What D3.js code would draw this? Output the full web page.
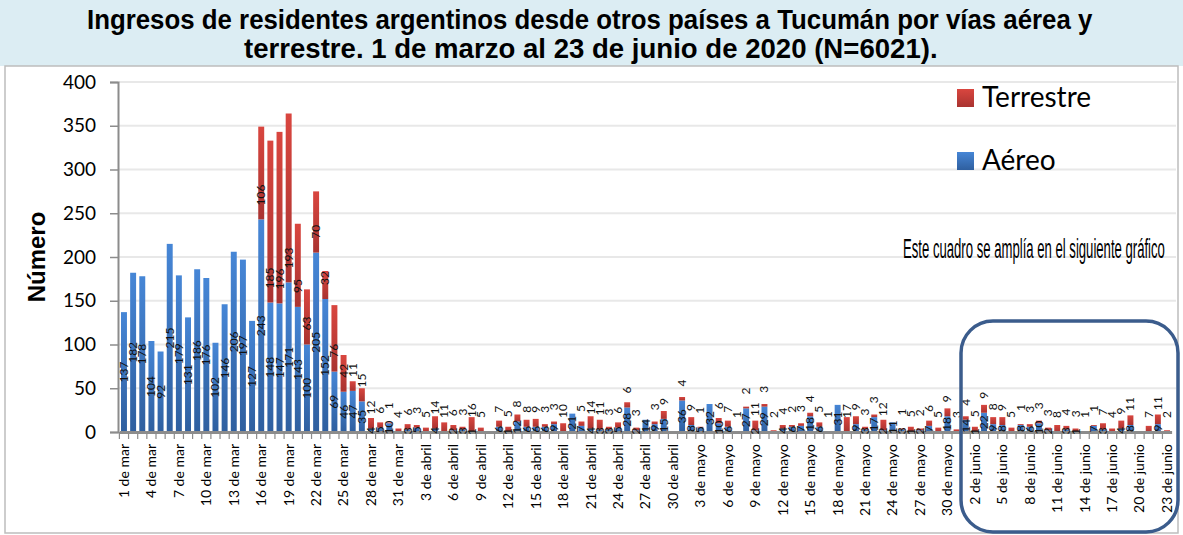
<!DOCTYPE html>
<html lang="es">
<head>
<meta charset="UTF-8">
<title>Ingresos a Tucumán</title>
<script src="https://d3js.org/d3.v7.min.js"></script>
<style>
  body { margin: 0; background: #fff; }
  svg { display: block; }
  .tick text { fill: #000; }
</style>
</head>
<body>
<div id="chart"></div>
<script>
// meses y días (1 de marzo al 23 de junio de 2020)
const monthNames = ["mar", "abril", "mayo", "junio"];
const monthDays = [31, 30, 31, 23];

// Aéreo (azul) por día
const aereo = [
  137, 182, 178, 104, 92, 215, 179, 131, 186, 176, 102, 146, 206, 197, 127,
  243, 148, 147, 171, 143, 100, 205, 152, 69, 46, 47, 35, 4, 5, 10, 0,
  3, 5, 0, 4, 0, 2, 3, 1, 0, 0, 6, 1, 12, 6, 6, 6, 9, 0, 21, 7,
  4, 3, 3, 5, 28, 2, 14, 9, 15, 0,
  36, 8, 5, 32, 10, 6, 0, 27, 2, 29, 0, 4, 6, 7, 18, 6, 0, 31, 0, 9,
  3, 17, 2, 11, 3, 1, 2, 7, 0, 18, 0,
  14, 1, 22, 9, 8, 0, 8, 6, 10, 2, 0, 3, 1, 0, 7, 3, 0, 4, 8, 0, 0, 9, 0
];
// Terrestre (rojo) por día
const terrestre = [
  0, 0, 0, 0, 0, 0, 0, 0, 0, 0, 0, 0, 0, 0, 0,
  106, 185, 196, 193, 95, 63, 70, 32, 76, 42, 11, 15, 12, 6, 1, 4,
  6, 3, 5, 14, 11, 6, 3, 16, 5, 0, 7, 5, 8, 8, 9, 3, 3, 10, 0, 5,
  14, 11, 3, 6, 6, 3, 0, 3, 9, 0,
  4, 9, 1, 0, 6, 7, 1, 2, 11, 3, 2, 4, 2, 3, 4, 5, 1, 0, 17, 9,
  3, 3, 12, 0, 1, 5, 2, 6, 5, 9, 3,
  4, 5, 9, 8, 9, 5, 1, 3, 3, 3, 8, 4, 3, 1, 1, 7, 4, 9, 11, 0, 7, 11, 2
];
const yTicks = [0, 50, 100, 150, 200, 250, 300, 350, 400];

const categories = [];
monthNames.forEach((m, k) => {
  for (let d = 1; d <= monthDays[k]; d++) categories.push(d + " de " + m);
});

const W = 1183, H = 535;
const svg = d3.select("#chart").append("svg").attr("width", W).attr("height", H);

const defs = svg.append("defs");
function grad(id, c1, c2) {
  const g = defs.append("linearGradient").attr("id", id).attr("x1", 0).attr("y1", 0).attr("x2", 0).attr("y2", 1);
  g.append("stop").attr("offset", "0%").attr("stop-color", c1);
  g.append("stop").attr("offset", "100%").attr("stop-color", c2);
}
grad("gBlue", "#4686d6", "#2f5f9f");
grad("gRed", "#d9463f", "#a93330");

// texto estrecho: se escala en horizontal hasta el ancho pedido
function narrowText(cx, cy, width, font, str, anchor) {
  const t = svg.append("text").style("font", font).text(str);
  const len = t.node().getComputedTextLength();
  const k = width / len;
  const left = anchor === "middle" ? cx - width / 2 : cx;
  t.attr("transform", `translate(${left},${cy}) scale(${k},1)`);
  return t;
}

// cabecera
svg.append("rect").attr("x", 0).attr("y", 0).attr("width", W).attr("height", 66).attr("fill", "#dcedf3");
svg.append("rect").attr("x", 5).attr("y", 66).attr("width", 1173).attr("height", 467)
  .attr("fill", "#fff").attr("stroke", "#bdbdbd").attr("stroke-width", 1.5);

narrowText(590, 29, 1006, "bold 28px 'Liberation Sans', Arial, sans-serif",
  "Ingresos de residentes argentinos desde otros países a Tucumán por vías aérea y", "middle");
narrowText(591, 58, 694, "bold 28px 'Liberation Sans', Arial, sans-serif",
  "terrestre. 1 de marzo al 23 de junio de 2020 (N=6021).", "middle");

const x = d3.scaleBand().domain(categories).range([119.4, 1171.6]).paddingInner(0.35).paddingOuter(0.175);
const y = d3.scaleLinear().domain([0, 400]).range([432, 82]);

// grid
svg.append("g").selectAll("line").data(yTicks.slice(1)).join("line")
  .attr("x1", 119).attr("x2", 1176).attr("y1", d => y(d)).attr("y2", d => y(d))
  .attr("stroke", "#e8e8e8").attr("stroke-width", 2);

// ejes
const yAxis = svg.append("g").attr("transform", "translate(118,0)")
  .call(d3.axisLeft(y).tickValues(yTicks).tickSize(8).tickPadding(14));
yAxis.select(".domain").attr("stroke", "#8c8c8c").attr("stroke-width", 2);
yAxis.selectAll(".tick line").attr("stroke", "#8c8c8c").attr("stroke-width", 1.5);
yAxis.selectAll(".tick text").style("font", "19px Lato, 'Open Sans', sans-serif");

svg.append("text").attr("transform", "translate(45,257) rotate(-90)").attr("text-anchor", "middle")
  .style("font", "bold 24px 'Liberation Sans', Arial, sans-serif").text("Número");

// barras
const stacked = categories.map((c, i) => ({ c, a: aereo[i], t: terrestre[i] }));
const g = svg.append("g");
g.selectAll("rect.a").data(stacked).join("rect").attr("class", "a")
  .attr("x", d => x(d.c)).attr("width", x.bandwidth())
  .attr("y", d => y(d.a)).attr("height", d => y(0) - y(d.a)).attr("fill", "url(#gBlue)");
g.selectAll("rect.t").data(stacked).join("rect").attr("class", "t")
  .attr("x", d => x(d.c)).attr("width", x.bandwidth())
  .attr("y", d => y(d.a + d.t)).attr("height", d => y(d.a) - y(d.a + d.t)).attr("fill", "url(#gRed)");

// eje x
const xAxis = svg.append("g").attr("transform", "translate(0,432)")
  .call(d3.axisBottom(x).tickSize(0).tickFormat((d, i) => i % 3 === 0 ? d : ""));
xAxis.select(".domain").attr("stroke", "#8c8c8c").attr("stroke-width", 3);
xAxis.selectAll(".tick text").attr("transform", "rotate(-90)").attr("text-anchor", "end")
  .attr("x", -12).attr("y", 0).attr("dy", "0.35em")
  .style("font", "14px Lato, 'Open Sans', sans-serif");
svg.append("g").selectAll("line").data(categories).join("line")
  .attr("x1", d => x(d) - x.step() * 0.175).attr("x2", d => x(d) - x.step() * 0.175)
  .attr("y1", 432).attr("y2", 439).attr("stroke", "#8c8c8c").attr("stroke-width", 1.2);

// etiquetas de datos
const lbl = svg.append("g").style("font", "12px Lato, 'Open Sans', sans-serif").attr("fill", "#111");
lbl.selectAll("text.a").data(stacked.filter(d => d.a > 0)).join("text").attr("class", "a")
  .attr("transform", d => `translate(${x(d.c) + x.bandwidth() / 2 + 4},${(y(0) + y(d.a)) / 2}) rotate(-90)`)
  .attr("text-anchor", "middle").text(d => d.a);
lbl.selectAll("text.t").data(stacked.filter(d => d.t > 0)).join("text").attr("class", "t")
  .attr("transform", d => `translate(${x(d.c) + x.bandwidth() / 2 + 4},${y(d.a) - 14}) rotate(-90)`)
  .attr("text-anchor", "start").text(d => d.t);

// leyenda
const legend = [["Terrestre", "url(#gRed)", 89], ["Aéreo", "url(#gBlue)", 152]];
legend.forEach(([name, fill, ly]) => {
  svg.append("rect").attr("x", 957).attr("y", ly).attr("width", 17).attr("height", 18).attr("fill", fill);
  svg.append("text").attr("x", 982).attr("y", ly + 18).style("font", "28px Lato, 'Open Sans', sans-serif").text(name);
});

narrowText(903, 258, 262, "28px 'Liberation Sans', sans-serif", "Este cuadro se amplía en el siguiente gráfico", "start");

svg.append("rect").attr("x", 961).attr("y", 321).attr("width", 217).attr("height", 211).attr("rx", 32)
  .attr("fill", "none").attr("stroke", "#3b5c8c").attr("stroke-width", 3.5);
</script>
</body>
</html>
